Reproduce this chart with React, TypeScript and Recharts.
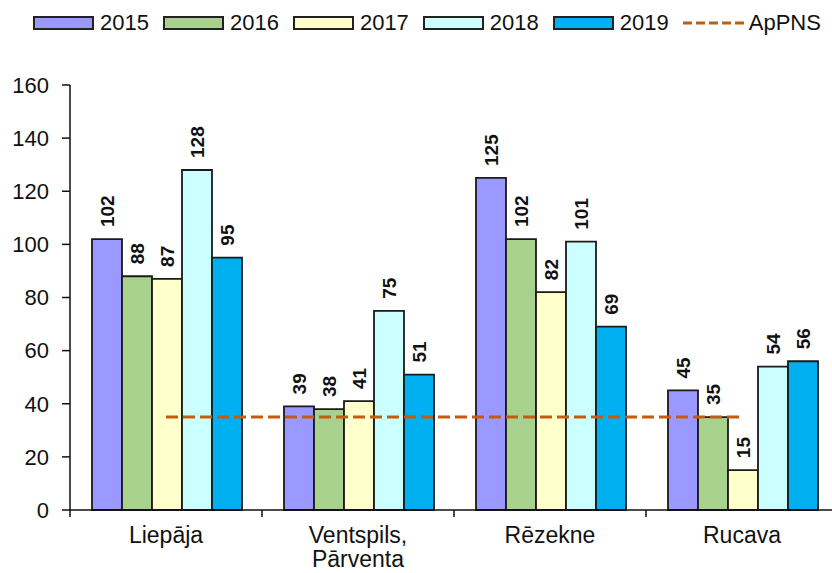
import React from "react";
import { ComposedChart, Bar, Line, XAxis, YAxis, LabelList } from "recharts";

const categories = ["Liepāja", "Ventspils, Pārventa", "Rēzekne", "Rucava"];
const years = ["2015", "2016", "2017", "2018", "2019"];
const v2015 = [102, 39, 125, 45];
const v2016 = [88, 38, 102, 35];
const v2017 = [87, 41, 82, 15];
const v2018 = [128, 75, 101, 54];
const v2019 = [95, 51, 69, 56];
const appns = [35, 35, 35, 35];
const yTicks = [0, 20, 40, 60, 80, 100, 120, 140, 160];

const colors = ["#9999FF", "#A9D18E", "#FFFFCC", "#CCFFFF", "#00B0F0"];
const lineColor = "#C55A11";
const FONT = '"Liberation Sans", Arial, sans-serif';

const CHART_W = 842;
const CHART_H = 573;
const MARGIN = { top: 85, right: 4, bottom: 0, left: 0 };
const Y_W = 70;
const BAND = (CHART_W - MARGIN.left - MARGIN.right - Y_W) / categories.length;

const seriesValues = [v2015, v2016, v2017, v2018, v2019];
const data = categories.map((c, i) => {
  const row: any = { name: c, appns: appns[i] };
  years.forEach((y, k) => {
    row["y" + y] = seriesValues[k][i];
  });
  return row;
});

const BarLabel = (props: any) => {
  const { x, y, width, value } = props;
  const cx = x + width / 2;
  const ty = y - 12;
  return (
    <text
      x={cx}
      y={ty}
      transform={`rotate(-90 ${cx} ${ty})`}
      textAnchor="start"
      dominantBaseline="central"
      fontSize={19}
      fontWeight="bold"
      fontFamily={FONT}
      fill="#111"
    >
      {value}
    </text>
  );
};

const XTick = (props: any) => {
  const { x, y, payload } = props;
  const lines = String(payload.value).split(/(?<=,)\s/);
  const left = x - BAND / 2;
  return (
    <g>
      <line x1={left} y1={y} x2={left} y2={y + 7} stroke="#111" strokeWidth={1.5} />
      <text textAnchor="middle" fontSize={23} fontFamily={FONT} fill="#111">
        {lines.map((l, i) => (
          <tspan key={i} x={x} y={y + 33 + i * 24}>
            {l}
          </tspan>
        ))}
      </text>
    </g>
  );
};

const Legend = () => (
  <div
    style={{
      position: "absolute",
      left: 33,
      top: 14,
      display: "flex",
      alignItems: "center",
      fontFamily: FONT,
      fontSize: 22,
      color: "#111",
      lineHeight: "18px",
    }}
  >
    {years.map((y, i) => (
      <div key={y} style={{ display: "flex", alignItems: "center", marginRight: 14 }}>
        <div
          style={{
            width: 57,
            height: 10,
            background: colors[i],
            border: "2px solid #222",
            marginRight: 6,
          }}
        />
        <span>{y}</span>
      </div>
    ))}
    <div style={{ display: "flex", alignItems: "center" }}>
      <svg width={61} height={6} style={{ marginRight: 5 }}>
        <line x1={0} y1={3} x2={61} y2={3} stroke={lineColor} strokeWidth={3} strokeDasharray="9 4" />
      </svg>
      <span>ApPNS</span>
    </div>
  </div>
);

export default function App() {
  return (
    <div
      style={{
        position: "absolute",
        left: 0,
        top: 0,
        width: 832,
        height: 573,
        overflow: "hidden",
        background: "#fff",
      }}
    >
      <ComposedChart
        width={CHART_W}
        height={CHART_H}
        data={data}
        margin={MARGIN}
        barCategoryGap={22}
        barGap={0}
      >
        <XAxis
          dataKey="name"
          height={CHART_H - 510}
          tickSize={0}
          tickMargin={0}
          interval={0}
          stroke="#111"
          axisLine={{ stroke: "#111", strokeWidth: 1.5 }}
          tickLine={false}
          tick={<XTick />}
        />
        <YAxis
          width={Y_W}
          domain={[0, 160]}
          ticks={yTicks}
          interval={0}
          tickSize={8}
          tickMargin={13}
          axisLine={{ stroke: "#111", strokeWidth: 1.5 }}
          tickLine={{ stroke: "#111", strokeWidth: 1.5 }}
          tick={{ fontSize: 22, fill: "#111", fontFamily: FONT }}
        />
        {years.map((y, i) => (
          <Bar
            key={y}
            dataKey={"y" + y}
            fill={colors[i]}
            stroke="#1a1a1a"
            strokeWidth={1.8}
            isAnimationActive={false}
          >
            <LabelList dataKey={"y" + y} content={<BarLabel />} />
          </Bar>
        ))}
        <Line
          dataKey="appns"
          stroke={lineColor}
          strokeWidth={3}
          strokeDasharray="12 5"
          dot={false}
          activeDot={false}
          isAnimationActive={false}
        />
      </ComposedChart>
      <Legend />
    </div>
  );
}
